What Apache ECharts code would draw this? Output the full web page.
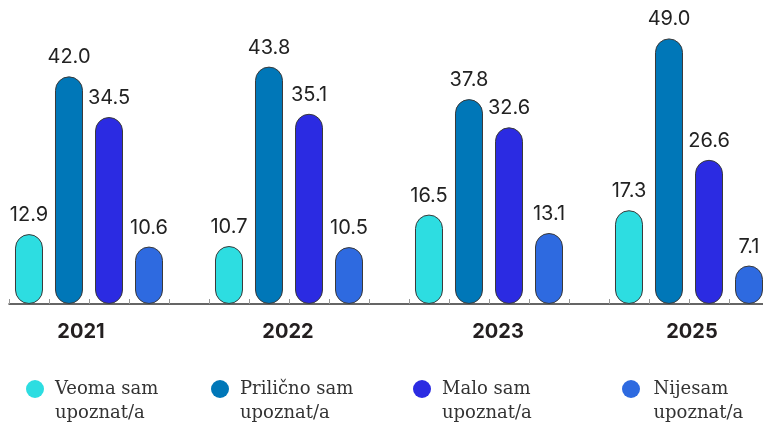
<!DOCTYPE html>
<html>
<head>
<meta charset="utf-8">
<script src="https://cdn.jsdelivr.net/npm/echarts@6/dist/echarts.min.js"></script>
<style>
  html, body { margin: 0; padding: 0; background: #ffffff; }
  #chart { width: 763px; height: 425px; }
</style>
</head>
<body>
<div id="chart"></div>
<script>
// podaci
const years = ["2021", "2022", "2023", "2025"];
const veoma = [12.9, 10.7, 16.5, 17.3];
const prilicno = [42.0, 43.8, 37.8, 49.0];
const malo = [34.5, 35.1, 32.6, 26.6];
const nijesam = [10.6, 10.5, 13.1, 7.1];
const names = ["Veoma sam\nupoznat/a", "Prilično sam\nupoznat/a", "Malo sam\nupoznat/a", "Nijesam\nupoznat/a"];
const colors = ["#2ddde1", "#0077b8", "#2b2be2", "#2e6ae0"];

// slotovi za crtice na osi (4 stupca + razmak po godini)
const tickSlots = [];
years.forEach(y => {
  for (let i = 0; i < 5; i++) tickSlots.push(y + "_" + i);
});

// mali pomaci natpisa godina (px, + desno)
const yearShift = [-8, -1, 9, 3];
const yearFont = { fontFamily: "Inter", fontSize: 20, fontWeight: "bold", color: "#231f20" };
const yearRich = {};
yearShift.forEach((d, i) => {
  yearRich["y" + i] = Object.assign({}, yearFont, {
    padding: d < 0 ? [0, -2 * d, 0, 0] : [0, 0, 0, 2 * d]
  });
});

const chart = echarts.init(document.getElementById("chart"));

const makeSeries = (name, data, color) => ({
  name,
  type: "bar",
  xAxisIndex: 0,
  yAxisIndex: 0,
  barWidth: 28,
  barGap: "42.86%",
  data,
  itemStyle: {
    color,
    borderColor: "#3a3a3a",
    borderWidth: 1,
    borderRadius: 14
  },
  label: {
    show: true,
    position: "top",
    distance: 9,
    fontFamily: "Inter",
    fontSize: 20,
    color: "#222222",
    formatter: p => p.value.toFixed(1)
  }
});

const legendLeft = [26, 211, 413, 622];
const legendIconW = [30, 30, 30, 35];

const option = {
  animation: false,
  grid: [
    { left: -11, width: 800, top: 33, bottom: 121, outerBoundsMode: "none" },
    { left: 9, width: 800, top: 33, bottom: 121, outerBoundsMode: "none" }
  ],
  xAxis: [
    {
      type: "category",
      gridIndex: 0,
      data: years,
      axisLine: { show: false },
      axisTick: { show: false },
      axisLabel: Object.assign({}, yearFont, {
        margin: 18,
        formatter: (v, i) => "{y" + i + "|" + v + "}",
        rich: yearRich
      })
    },
    {
      type: "category",
      gridIndex: 1,
      data: tickSlots,
      axisLine: { show: true, lineStyle: { color: "#333333", width: 1.5 } },
      axisTick: { show: true, inside: true, length: 5, interval: 0, lineStyle: { color: "#999999" } },
      axisLabel: { show: false, interval: 0 }
    }
  ],
  yAxis: [
    { type: "value", gridIndex: 0, min: 0, max: 50, show: false },
    { type: "value", gridIndex: 1, min: 0, max: 50, show: false }
  ],
  legend: names.map((n, i) => ({
    data: [n],
    left: legendLeft[i],
    top: 353,
    padding: 0,
    icon: "circle",
    itemWidth: legendIconW[i],
    itemHeight: 18,
    itemStyle: { borderWidth: 0 },
    formatter: name => "\n" + name,
    textStyle: {
      fontFamily: "DejaVu Serif",
      fontSize: 18,
      lineHeight: 24,
      color: "#333333"
    }
  })),
  series: [
    makeSeries(names[0], veoma, colors[0]),
    makeSeries(names[1], prilicno, colors[1]),
    makeSeries(names[2], malo, colors[2]),
    makeSeries(names[3], nijesam, colors[3])
  ]
};

chart.setOption(option);
</script>
</body>
</html>
